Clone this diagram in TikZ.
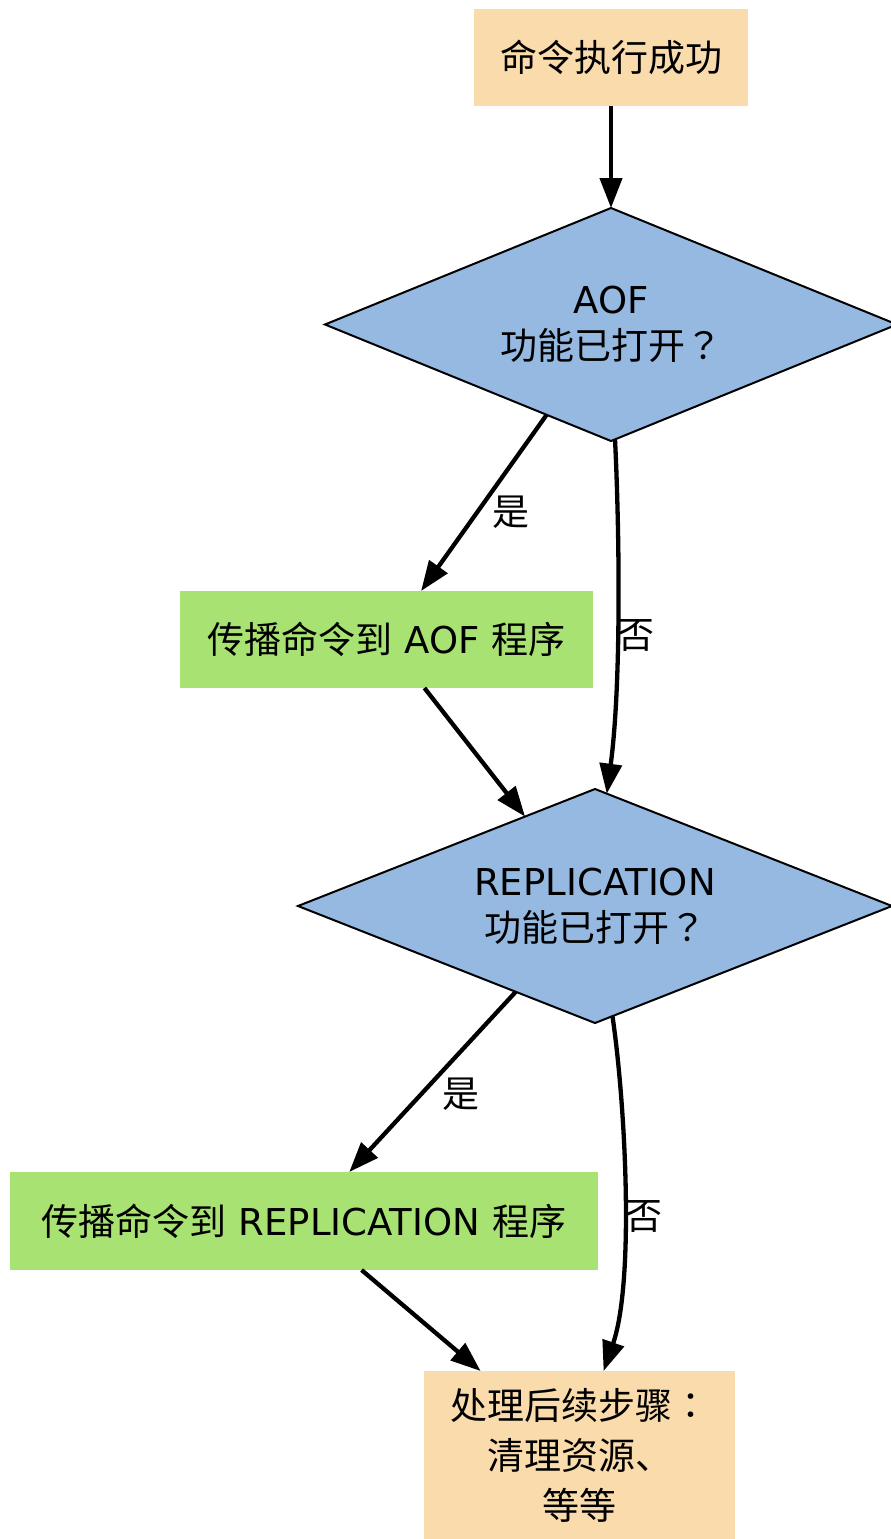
\documentclass[tikz,border=0pt]{standalone}
\usepackage{fontspec}
\setmainfont{DejaVu Sans}
\newfontfamily\cjk{Noto Sans CJK SC}
\newfontfamily\cjkp{Noto Sans CJK TC}
\usetikzlibrary{shapes.geometric,arrows.meta}
\definecolor{wheatc}{HTML}{FADBAB}
\definecolor{bluec}{HTML}{95B9E1}
\definecolor{greenc}{HTML}{A8E272}
\newcommand\zhtxt[1]{{\cjk #1}}
\newcommand\zhpun[1]{{\cjkp #1}}
\begin{document}
\begin{tikzpicture}[x=1pt,y=-1pt,
  every node/.style={font=\fontsize{37}{46}\selectfont, inner sep=0pt, outer sep=0pt},
  boxw/.style={rectangle, fill=wheatc, align=center},
  boxg/.style={rectangle, fill=greenc},
  decide/.style={diamond, fill=bluec, draw=black, line width=2pt, aspect=2.45, align=center},
  conn/.style={line width=4.3pt, -{Triangle[length=30pt,width=22pt]}},
  lbl/.style={}]
\useasboundingbox (0,0) rectangle (891,1539);
\node[boxw, minimum width=274pt, minimum height=97pt] (n1) at (611,57.5) {\zhtxt{命令执行成功}};
\node[decide, minimum width=572pt, minimum height=233pt] (d1) at (611,324.5) {AOF\\\zhtxt{功能已打开}\zhpun{？}};
\node[boxg, minimum width=413pt, minimum height=97pt] (g1) at (386.5,639.5) {\zhtxt{传播命令到} AOF \zhtxt{程序}};
\node[decide, minimum width=594pt, minimum height=234pt] (d2) at (595,906) {REPLICATION\\\zhtxt{功能已打开}\zhpun{？}};
\node[boxg, minimum width=588pt, minimum height=98pt] (g2) at (304,1221) {\zhtxt{传播命令到} REPLICATION \zhtxt{程序}};
\node[boxw, minimum width=311pt, minimum height=168pt, font=\fontsize{37}{50}\selectfont] (n6) at (579.5,1455) {\zhtxt{处理后续步骤}\zhpun{：}\\\zhtxt{清理资源、}\\\zhtxt{等等}};
\draw[conn] (n1) -- (d1);
\draw[conn] (d1) -- (g1);
\draw[conn] (d1.-88) .. controls (619,520) and (622,680) .. (d2.84);
\draw[conn] (g1) -- (d2);
\draw[conn] (d2) -- (g2);
\draw[conn] (d2.-81) .. controls (625,1100) and (635,1280) .. (n6.74);
\draw[conn] (g2) -- (n6);
\node[lbl] (l1) at (511,512) {\zhtxt{是}};
\node[lbl] (l2) at (636,635) {\zhtxt{否}};
\node[lbl] (l3) at (461,1094) {\zhtxt{是}};
\node[lbl] (l4) at (644,1216) {\zhtxt{否}};
\end{tikzpicture}
\end{document}
